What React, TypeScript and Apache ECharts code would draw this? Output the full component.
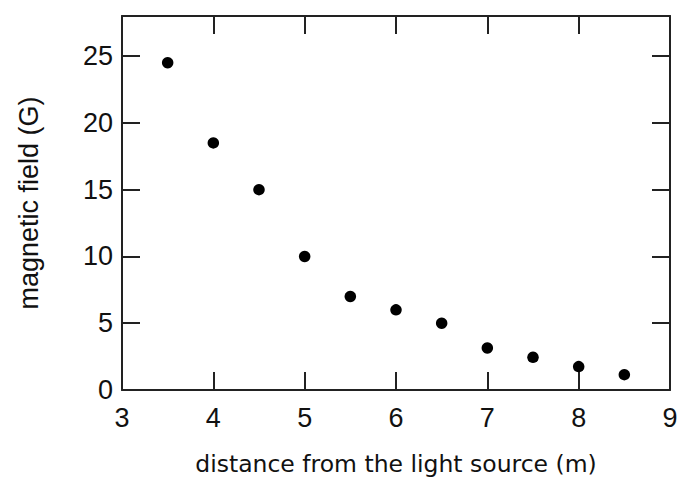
import React, { useEffect, useRef } from "react";
import * as echarts from "echarts";

const distances = [3.5, 4, 4.5, 5, 5.5, 6, 6.5, 7, 7.5, 8, 8.5];
const fields = [24.5, 18.5, 15, 10, 7, 6, 5, 3.15, 2.45, 1.75, 1.15];
const xName = "distance from the light source (m)";
const yName = "magnetic field (G)";

const FONT = "'Liberation Sans', Arial, sans-serif";
const XFONT = "'DejaVu Sans', sans-serif";
const AX = "#222";
const TXT = "#111";

export default function App() {
  const ref = useRef<HTMLDivElement>(null);
  useEffect(() => {
    if (!ref.current) return;
    document.documentElement.style.overflow = "hidden";
    document.body.style.margin = "0";
    document.body.style.overflow = "hidden";
    const chart = echarts.init(ref.current, null, { renderer: "svg" });
    const lineStyle = { color: AX, width: 2 };
    const tick = { show: true, inside: true, length: 18, lineStyle };
    chart.setOption({
      animation: false,
      backgroundColor: "#fff",
      grid: {
        left: 122,
        right: 9,
        top: 16,
        bottom: 89,
        containLabel: false,
        outerBoundsMode: "none",
      },
      xAxis: [
        {
          type: "value",
          min: 3,
          max: 9,
          interval: 1,
          position: "bottom",
          name: xName,
          nameLocation: "middle",
          nameGap: 62,
          nameTextStyle: { fontFamily: XFONT, fontSize: 23.5, color: TXT },
          axisLine: { show: true, onZero: false, lineStyle },
          axisTick: tick,
          axisLabel: { fontFamily: FONT, fontSize: 27, color: TXT, margin: 14 },
          splitLine: { show: false },
        },
        {
          type: "value",
          min: 3,
          max: 9,
          interval: 1,
          position: "top",
          axisLine: { show: true, onZero: false, lineStyle },
          axisTick: tick,
          axisLabel: { show: false },
          splitLine: { show: false },
        },
      ],
      yAxis: [
        {
          type: "value",
          min: 0,
          max: 28,
          interval: 5,
          position: "left",
          name: yName,
          nameLocation: "middle",
          nameGap: 80,
          nameTextStyle: { fontFamily: FONT, fontSize: 27, color: TXT },
          axisLine: { show: true, onZero: false, lineStyle },
          axisTick: tick,
          axisLabel: {
            fontFamily: FONT,
            fontSize: 27,
            color: TXT,
            margin: 9,
            showMaxLabel: false,
            formatter: (v: number) => (v % 5 === 0 ? String(v) : ""),
          },
          splitLine: { show: false },
        },
        {
          type: "value",
          min: 0,
          max: 28,
          interval: 5,
          position: "right",
          axisLine: { show: true, onZero: false, lineStyle },
          axisTick: tick,
          axisLabel: { show: false },
          splitLine: { show: false },
        },
      ],
      series: [
        {
          type: "scatter",
          data: distances.map((d, i) => [d, fields[i]]),
          symbol: "circle",
          symbolSize: 11.5,
          itemStyle: { color: "#000", opacity: 1 },
        },
      ],
    });
    return () => chart.dispose();
  }, []);
  return (
    <div
      ref={ref}
      style={{ position: "fixed", left: 0, top: 0, width: 679, height: 479, overflow: "hidden" }}
    />
  );
}
